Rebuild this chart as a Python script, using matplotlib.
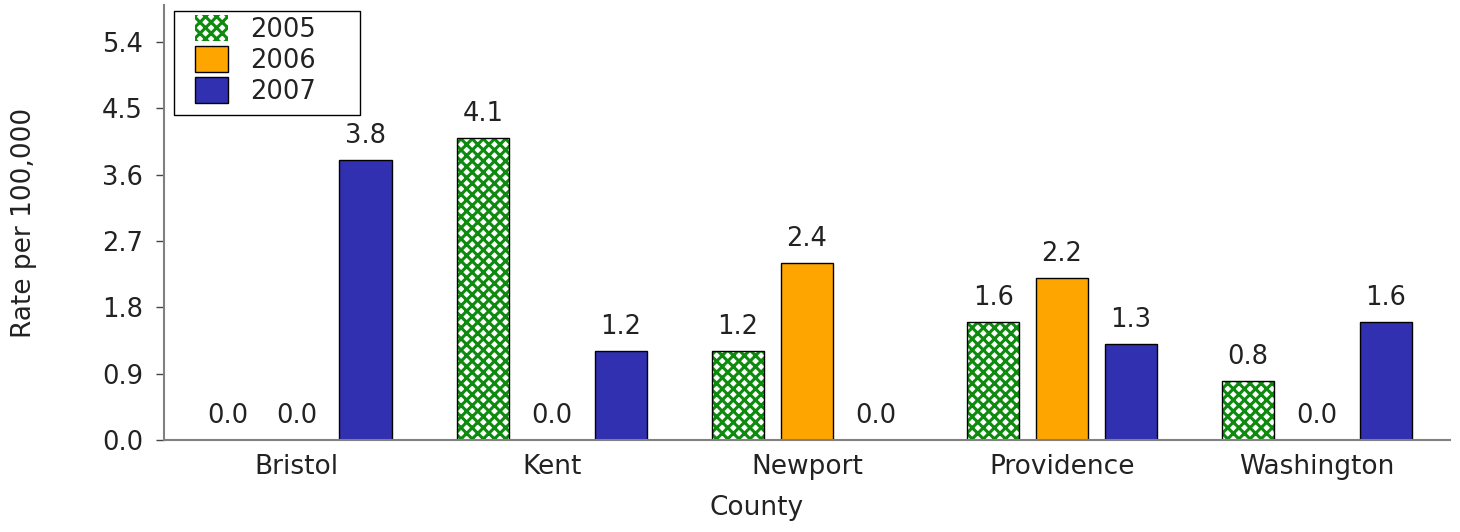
import numpy as np
import matplotlib
matplotlib.use('Agg')
import matplotlib.pyplot as plt
from matplotlib.patches import Rectangle

counties = ['Bristol', 'Kent', 'Newport', 'Providence', 'Washington']
years = ['2005', '2006', '2007']
rate2005 = [0.0, 4.1, 1.2, 1.6, 0.8]
rate2006 = [0.0, 0.0, 2.4, 2.2, 0.0]
rate2007 = [3.8, 1.2, 0.0, 1.3, 1.6]
yticks = [0.0, 0.9, 1.8, 2.7, 3.6, 4.5, 5.4]

plt.rcParams['font.family'] = 'DejaVu Sans'
plt.rcParams['hatch.linewidth'] = 2.2

W, H = 1460, 532
fig = plt.figure(figsize=(W / 100, H / 100), dpi=100)
ax = fig.add_axes([0.1123, 0.173, 0.8807, 0.8177])

x = np.arange(len(counties))
step = 0.27
w = 0.204
txt = '#222222'
grey = '#808080'
fs = 18.5

b1 = ax.bar(x - step, rate2005, w, color='white', edgecolor='#0E8A0E', hatch='xxx', linewidth=0, label=years[0])
ax.bar(x - step, rate2005, w, fill=False, edgecolor='black', linewidth=1.0)
b2 = ax.bar(x, rate2006, w, color='#FFA500', edgecolor='black', linewidth=1.0, label=years[1])
b3 = ax.bar(x + step, rate2007, w, color='#3130B0', edgecolor='black', linewidth=1.0, label=years[2])

for b in (b1, b2, b3):
    ax.bar_label(b, fmt='%.1f', padding=8, fontsize=fs, color=txt)

ax.set_xlim(-0.52, 4.52)
ax.set_ylim(0, 5.9)
ax.set_yticks(yticks)
ax.set_yticklabels(['%.1f' % v for v in yticks])
ax.set_xticks(x)
ax.set_xticklabels(counties)

for s in ('top', 'right'):
    ax.spines[s].set_visible(False)
for s in ('left', 'bottom'):
    ax.spines[s].set_color(grey)
    ax.spines[s].set_linewidth(1.5)

ax.tick_params(axis='y', length=6, width=1.0, color='#444444', pad=9, labelsize=fs, labelcolor=txt)
ax.tick_params(axis='x', length=0, pad=10, labelsize=19, labelcolor=txt)

ax.set_xlabel('County', fontsize=19, color=txt)
ax.set_ylabel('Rate per 100,000', fontsize=19, color=txt)
ax.xaxis.set_label_coords(0.461, -0.126)
ax.yaxis.set_label_coords(-0.099, 0.5)

leg = ax.legend(loc='upper left', bbox_to_anchor=(195 / W, (H - 15) / H), bbox_transform=fig.transFigure,
                fontsize=fs, frameon=False, handlelength=1.28, handleheight=1.2,
                labelspacing=0.12, handletextpad=0.85, borderpad=0, borderaxespad=0)
for t in leg.get_texts():
    t.set_color(txt)
fig.add_artist(Rectangle((174 / W, (H - 115) / H), 186 / W, 104 / H, transform=fig.transFigure,
                         fill=False, edgecolor='black', linewidth=1.0))

fig.savefig('out.png', dpi=100)
